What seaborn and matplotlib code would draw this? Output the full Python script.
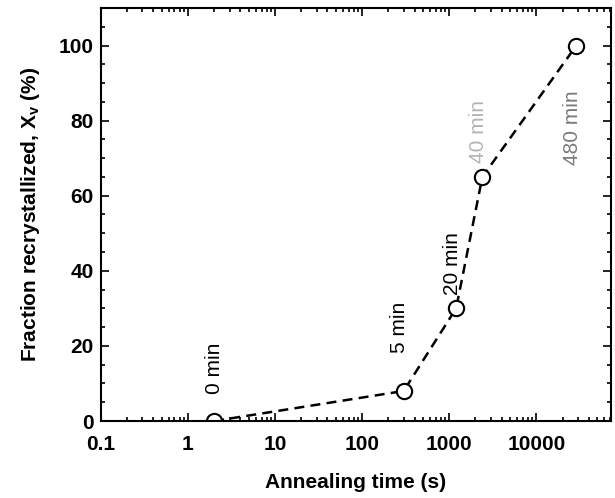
import numpy as np
import pandas as pd
import matplotlib
matplotlib.use('Agg')
import matplotlib.pyplot as plt
import matplotlib.ticker as plticker
import seaborn as sb

# annealing data
time_s = [2, 300, 1200, 2400, 28800]
frac = [0, 8, 30, 65, 100]
labels = ['0 min', '5 min', '20 min', '40 min', '480 min']
label_y = [14, 25, 42, 77, 78]
label_col = ['black', 'black', 'black', '#b4b4b4', '#7a7a7a']

myData = pd.DataFrame({'time': time_s, 'frac': frac})

sb.set_style('ticks')
plt.rcParams['font.family'] = ['Liberation Sans', 'DejaVu Sans']
plt.rcParams['mathtext.fontset'] = 'custom'
plt.rcParams['mathtext.rm'] = 'Liberation Sans:bold'
plt.rcParams['mathtext.it'] = 'Liberation Sans:bold'
plt.rcParams['text.color'] = 'black'
plt.rcParams['axes.labelcolor'] = 'black'
plt.rcParams['xtick.color'] = 'black'
plt.rcParams['ytick.color'] = 'black'
plt.rcParams['axes.edgecolor'] = 'black'

fig = plt.figure(figsize=(6.15, 4.98), dpi=100)
ax = fig.add_axes([0.164, 0.1546, 0.8295, 0.8294])

sb.lineplot(x='time', y='frac', data=myData, ax=ax, color='black',
            linestyle=(0, (4, 2.5)), linewidth=1.8, marker='o', markersize=11,
            markerfacecolor='white', markeredgecolor='black', markeredgewidth=1.5)

for t, yl, s, c in zip(time_s, label_y, labels, label_col):
    ax.text(t * 0.9 if t > 2 else t, yl, s, rotation=90, ha='center', va='center',
            fontsize=15, color=c)

ax.set_xscale('log')
ax.set_xlim(0.1, 72000)
ax.set_ylim(0, 110)
ax.xaxis.set_major_locator(plticker.LogLocator(base=10, numticks=10))
ax.xaxis.set_minor_locator(plticker.LogLocator(base=10, subs=np.arange(2, 10), numticks=20))
ax.xaxis.set_major_formatter(plticker.FuncFormatter(lambda v, p: f'{v:g}' if v >= 1 else '0.1'))
ax.yaxis.set_major_locator(plticker.MultipleLocator(20))
ax.yaxis.set_minor_locator(plticker.MultipleLocator(5))

ax.tick_params(which='both', direction='in', top=True, right=True, width=1.2)
ax.tick_params(which='major', length=6, labelsize=15)
ax.tick_params(which='minor', length=3)
ax.tick_params(axis='x', which='major', pad=10)
ax.tick_params(axis='y', which='major', pad=5)
for lab in ax.get_xticklabels() + ax.get_yticklabels():
    lab.set_fontweight('bold')
for sp in ax.spines.values():
    sp.set_linewidth(1.5)

plt.xlabel('Annealing time (s)', fontsize=15, fontweight='bold', labelpad=14)
plt.ylabel(r'Fraction recrystallized, X$_\mathrm{v}$ (%)', fontsize=15, fontweight='bold', labelpad=12)

plt.savefig('out.png', dpi=100)
